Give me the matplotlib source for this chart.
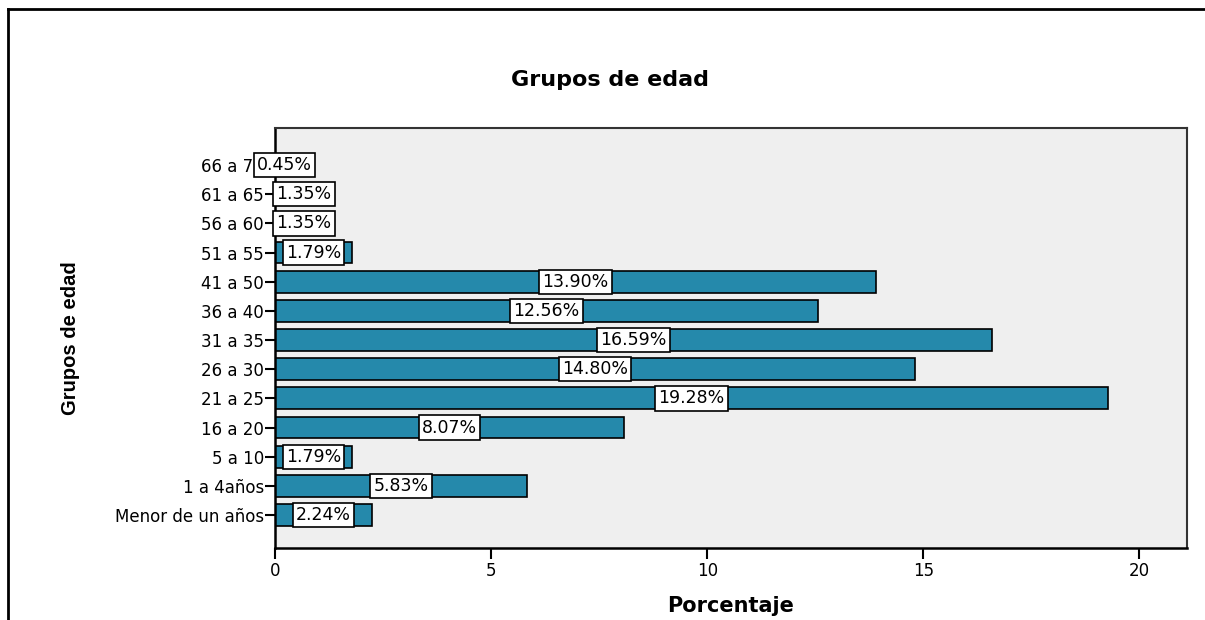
import matplotlib
matplotlib.use('Agg')
from matplotlib import pyplot as plt
from matplotlib.lines import Line2D

# datos
grupos = ['Menor de un años', '1 a 4años', '5 a 10', '16 a 20', '21 a 25', '26 a 30',
          '31 a 35', '36 a 40', '41 a 50', '51 a 55', '56 a 60', '61 a 65', '66 a 70']
porcentaje = [2.24, 5.83, 1.79, 8.07, 19.28, 14.80, 16.59, 12.56, 13.90, 1.79, 1.35, 1.35, 0.45]
xticks = [0, 5, 10, 15, 20]

plt.rcParams['font.family'] = ['DejaVu Sans']

W, H = 1205, 620
fig = plt.figure(figsize=(W / 100, H / 100), dpi=100)
ax = fig.add_axes([275 / W, 1 - 548 / H, (1187 - 275) / W, (548 - 128) / H])
ax.set_facecolor('#efefef')

pos = list(range(len(grupos)))
ax.barh(pos, porcentaje, height=0.75, color='#2589ab', edgecolor='black', linewidth=1.2, zorder=2)

# etiquetas en caja blanca, centradas en la barra
for y, v in zip(pos, porcentaje):
    ax.text(v / 2, y, f'{v:.2f}%', ha='center', va='center', fontsize=12.5, zorder=3,
            bbox=dict(boxstyle='square,pad=0.18', facecolor='white', edgecolor='black', linewidth=1.2))

ax.set_xlim(0, 21.1)
ax.set_ylim(-1.13, 13.27)
ax.set_xticks(xticks)
ax.set_yticks(pos)
ax.set_yticklabels(grupos)
ax.tick_params(axis='x', length=8, width=1.5, labelsize=12, pad=2)
ax.tick_params(axis='y', length=7, width=1.5, labelsize=12, pad=1)
for s in ['left', 'bottom']:
    ax.spines[s].set_linewidth(1.8)
for s in ['top', 'right']:
    ax.spines[s].set_linewidth(1.5)
    ax.spines[s].set_color('#333333')

ax.set_xlabel('Porcentaje', fontsize=15, fontweight='bold')
ax.xaxis.set_label_coords(0.5, 1 - (596 - 128) / (548 - 128))
fig.text(70 / W, 1 - 338 / H, 'Grupos de edad', rotation=90, ha='center', va='center',
         fontsize=14.5, fontweight='bold', family=['Liberation Sans'])
fig.text(610 / W, 1 - 80 / H, 'Grupos de edad', ha='center', va='center',
         fontsize=16, fontweight='bold')

# marco exterior
fig.add_artist(Line2D([8 / W, 1], [1 - 9 / H, 1 - 9 / H], transform=fig.transFigure, color='black', linewidth=2))
fig.add_artist(Line2D([8 / W, 8 / W], [1 - 9 / H, 0], transform=fig.transFigure, color='black', linewidth=2))

fig.savefig('out.png', dpi=100)
